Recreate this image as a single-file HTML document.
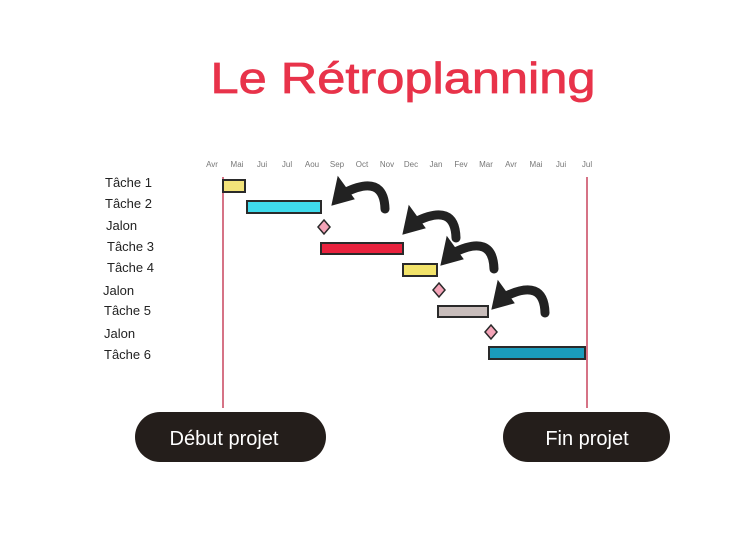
<!DOCTYPE html>
<html><head><meta charset="utf-8"><style>
html,body{margin:0;padding:0;background:#fff;width:735px;height:551px;overflow:hidden}
svg{display:block}
</style></head><body>
<svg width="735" height="551" viewBox="0 0 735 551" xmlns="http://www.w3.org/2000/svg" font-family="'Liberation Sans', sans-serif">
<text x="403" y="93" text-anchor="middle" font-size="44" fill="#e8334a" stroke="#e8334a" stroke-width="0.8" textLength="385" lengthAdjust="spacingAndGlyphs">Le Rétroplanning</text>
<g font-size="8" fill="#777" text-anchor="middle">
<text x="212" y="167">Avr</text><text x="237" y="167">Mai</text><text x="262" y="167">Jui</text><text x="287" y="167">Jul</text><text x="312" y="167">Aou</text><text x="337" y="167">Sep</text><text x="362" y="167">Oct</text><text x="387" y="167">Nov</text><text x="411" y="167">Dec</text><text x="436" y="167">Jan</text><text x="461" y="167">Fev</text><text x="486" y="167">Mar</text><text x="511" y="167">Avr</text><text x="536" y="167">Mai</text><text x="561" y="167">Jui</text><text x="587" y="167">Jul</text>
</g>
<g font-size="13" fill="#222">
<text x="105" y="187">Tâche 1</text><text x="105" y="208">Tâche 2</text><text x="106" y="230">Jalon</text><text x="107" y="251">Tâche 3</text><text x="107" y="272">Tâche 4</text><text x="103" y="295">Jalon</text><text x="104" y="315">Tâche 5</text><text x="104" y="338">Jalon</text><text x="104" y="359">Tâche 6</text>
</g>
<line x1="223" y1="177" x2="223" y2="408" stroke="#c9455f" stroke-width="1.5"/>
<line x1="587" y1="177" x2="587" y2="408" stroke="#c9455f" stroke-width="1.5"/>
<g stroke="#2a2a2a" stroke-width="2">
<rect x="223" y="180" width="22" height="12" fill="#f2e37a"/>
<rect x="247" y="201" width="74" height="12" fill="#3fdbec"/>
<rect x="321" y="243" width="82" height="11" fill="#e9223e"/>
<rect x="403" y="264" width="34" height="12" fill="#f2e36a"/>
<rect x="438" y="306" width="50" height="11" fill="#c8bdbb"/>
<rect x="489" y="347" width="96" height="12" fill="#1a9cbc"/>
<path d="M324 220 L330 227 L324 234 L318 227Z" fill="#f4a4b8" stroke-width="1.5"/>
<path d="M439 283 L445 290 L439 297 L433 290Z" fill="#f4a4b8" stroke-width="1.5"/>
<path d="M491 325 L497 332 L491 339 L485 332Z" fill="#f4a4b8" stroke-width="1.5"/>
</g>
<g fill="#222" stroke="#222" stroke-linecap="round">
<g transform="translate(332,203)"><path d="M53 6 Q52 -30 12 -10" fill="none" stroke-width="9"/><path d="M0 2 L6 -26 L22 -4Z" stroke-width="1"/></g>
<g transform="translate(403,232)"><path d="M53 6 Q52 -30 12 -10" fill="none" stroke-width="9"/><path d="M0 2 L6 -26 L22 -4Z" stroke-width="1"/></g>
<g transform="translate(441,263)"><path d="M53 6 Q52 -30 12 -10" fill="none" stroke-width="9"/><path d="M0 2 L6 -26 L22 -4Z" stroke-width="1"/></g>
<g transform="translate(492,307)"><path d="M53 6 Q52 -30 12 -10" fill="none" stroke-width="9"/><path d="M0 2 L6 -26 L22 -4Z" stroke-width="1"/></g>
</g>
<rect x="135" y="412" width="191" height="50" rx="25" fill="#241e1b"/>
<rect x="503" y="412" width="167" height="50" rx="25" fill="#241e1b"/>
<text x="224" y="445" text-anchor="middle" font-size="20" fill="#fff">Début projet</text>
<text x="587" y="445" text-anchor="middle" font-size="20" fill="#fff">Fin projet</text>
</svg>
</body></html>
